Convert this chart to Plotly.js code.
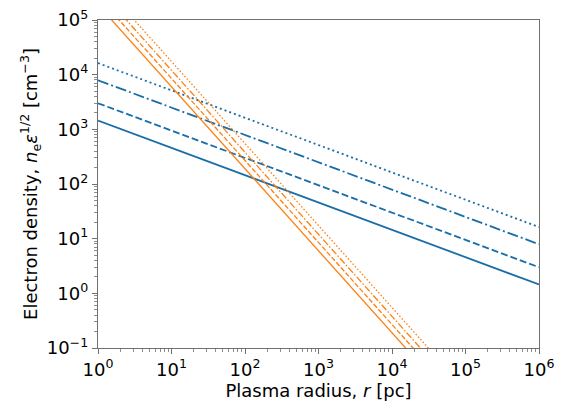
<!DOCTYPE html>
<html><head><meta charset="utf-8">
<script src="https://cdn.plot.ly/plotly-3.0.1.min.js"></script>
<style>body{margin:0;background:#fff}</style>
</head><body><div id="chart" style="width:572px;height:403px"></div>
<script>
// Blue lines: endpoints at r = 1 and r = 1e6
const blueX = [1, 1e6];
const blueSolid = [1450, 1.45];
const blueDashed = [3000, 3.0];
const blueDashDot = [7900, 7.9];
const blueDotted = [16300, 16.3];
// Orange lines: endpoints at r = 1 and r = 1e5
const orangeX = [1, 1e5];
const orangeSolid = [1.9e5, 6.0e-3];
const orangeDashed = [2.7e5, 8.5e-3];
const orangeDashDot = [3.8e5, 1.2e-2];
const orangeDotted = [5.5e5, 1.74e-2];
// Tick labels
const xTickVals = [1, 10, 100, 1e3, 1e4, 1e5, 1e6];
const xTickText = ['10<sup>0</sup>','10<sup>1</sup>','10<sup>2</sup>','10<sup>3</sup>','10<sup>4</sup>','10<sup>5</sup>','10<sup>6</sup>'];
const yTickVals = [0.1, 1, 10, 100, 1e3, 1e4, 1e5];
const yTickText = ['10<sup>\u22121</sup>','10<sup>0</sup>','10<sup>1</sup>','10<sup>2</sup>','10<sup>3</sup>','10<sup>4</sup>','10<sup>5</sup>'];

const BLUE = '#1a6ea8', ORANGE = '#ff7f0e';
function tr(x, y, color, width, dash) {
  return {x: x, y: y, mode: 'lines', type: 'scatter', hoverinfo: 'skip',
          line: {color: color, width: width, dash: dash}};
}
const data = [
  tr(blueX, blueSolid, BLUE, 1.8, 'solid'),
  tr(blueX, blueDashed, BLUE, 1.8, '7px,3px'),
  tr(blueX, blueDashDot, BLUE, 1.8, '11px,3px,2px,3px'),
  tr(blueX, blueDotted, BLUE, 1.8, '2px,3px'),
  tr(orangeX, orangeSolid, ORANGE, 1.3, 'solid'),
  tr(orangeX, orangeDashed, ORANGE, 1.3, '5px,2px'),
  tr(orangeX, orangeDashDot, ORANGE, 1.3, '7px,2px,1.5px,2px'),
  tr(orangeX, orangeDotted, ORANGE, 1.3, '1.5px,2px'),
];
const FONT = 'DejaVu Sans, sans-serif';
const axisCommon = {
  type: 'log', showgrid: false, zeroline: false,
  showline: true, linecolor: '#707070', linewidth: 1.2, mirror: true,
  ticks: 'outside', ticklen: 5, tickwidth: 1, tickcolor: '#707070',
  tickmode: 'array', tickfont: {family: FONT, size: 18, color: '#000'},
  minor: {ticks: 'outside', ticklen: 2.5, tickwidth: 0.8, tickcolor: '#707070', dtick: 'D1', showgrid: false}
};
const layout = {
  width: 572, height: 403,
  margin: {l: 98, r: 33, t: 20, b: 55},
  paper_bgcolor: '#fff', plot_bgcolor: '#fff',
  showlegend: false,
  xaxis: Object.assign({}, axisCommon, {
    range: [0, 6], tickvals: xTickVals, ticktext: xTickText,
    title: {text: 'Plasma radius, <i>r</i> [pc]', font: {family: FONT, size: 18, color: '#000'}, standoff: 2}
  }),
  yaxis: Object.assign({}, axisCommon, {
    range: [-1, 5], tickvals: yTickVals, ticktext: yTickText,
    title: {text: 'Electron density, <i>n</i><sub>e</sub><i>\u03b5</i><sup>1/2</sup> [cm<sup>\u22123</sup>]', font: {family: FONT, size: 18, color: '#000'}, standoff: 4}
  })
};
Plotly.newPlot('chart', data, layout, {displayModeBar: false, staticPlot: true});
</script></body></html>
